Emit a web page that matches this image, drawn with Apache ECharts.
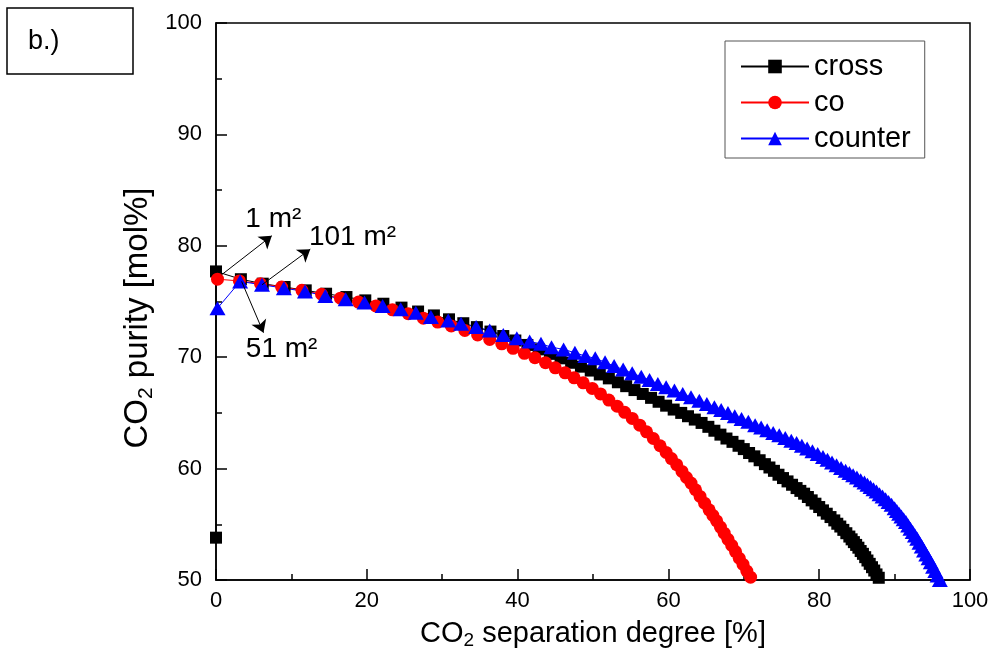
<!DOCTYPE html>
<html>
<head>
<meta charset="utf-8">
<title>CO2 purity vs separation degree</title>
<script src="https://cdn.jsdelivr.net/npm/echarts@6/dist/echarts.min.js"></script>
<style>
  html, body { margin: 0; padding: 0; background: #fff; }
  #chart { width: 993px; height: 670px; }
</style>
</head>
<body>
<div id="chart"></div>
<script>
// data
const crossX = [0, 0, 3.3, 6.2, 9.1, 11.9, 14.6, 17.3, 19.8, 22.2,
  24.6, 26.8, 28.9, 30.9, 32.8, 34.6, 36.4, 38.1, 39.7, 41.3,
  42.8, 44.3, 45.7, 47.1, 48.4, 49.7, 50.9, 52.1, 53.3, 54.4,
  55.5, 56.6, 57.7, 58.7, 59.7, 60.7, 61.7, 62.6, 63.5, 64.4,
  65.3, 66.1, 66.9, 67.7, 68.5, 69.3, 70.0, 70.7, 71.4, 72.1,
  72.8, 73.4, 74.0, 74.6, 75.2, 75.8, 76.4, 77.0, 77.5, 78.0,
  78.5, 79.0, 79.5, 80.0, 80.5, 81.0, 81.5, 82.0, 82.4, 82.8,
  83.2, 83.6, 84.0, 84.3, 84.6, 84.9, 85.2, 85.5, 85.8, 86.1,
  86.4, 86.7, 87.0, 87.3, 87.6, 87.9, 88.2]
const crossY = [53.8, 77.7, 77.0, 76.6, 76.3, 76.0, 75.7, 75.4, 75.1, 74.8,
  74.45, 74.1, 73.75, 73.4, 73.05, 72.7, 72.3, 71.9, 71.5, 71.1,
  70.7, 70.3, 69.9, 69.5, 69.15, 68.8, 68.45, 68.1, 67.75, 67.4,
  67.05, 66.7, 66.35, 66.0, 65.65, 65.3, 65.0, 64.7, 64.4, 64.1,
  63.75, 63.4, 63.05, 62.7, 62.4, 62.05, 61.75, 61.4, 61.1, 60.75,
  60.4, 60.1, 59.8, 59.45, 59.15, 58.85, 58.55, 58.25, 58.0, 57.75,
  57.45, 57.15, 56.85, 56.55, 56.25, 55.95, 55.65, 55.35, 55.05, 54.8,
  54.5, 54.2, 53.9, 53.65, 53.4, 53.15, 52.9, 52.6, 52.35, 52.05,
  51.75, 51.45, 51.15, 50.85, 50.5, 50.2, 49.85]

const coX = [0.2, 3.1, 5.9, 8.7, 11.4, 14.0, 16.5, 18.9, 21.2, 23.4,
  25.5, 27.5, 29.4, 31.2, 33.0, 34.7, 36.3, 37.9, 39.4, 40.9,
  42.3, 43.7, 45.0, 46.3, 47.5, 48.7, 49.9, 51.0, 52.1, 53.2,
  54.2, 55.2, 56.2, 57.1, 58.0, 58.9, 59.7, 60.4, 61.1, 61.8,
  62.4, 63.0, 63.6, 64.2, 64.8, 65.4, 65.9, 66.4, 66.9, 67.4,
  67.9, 68.4, 68.9, 69.4, 69.9, 70.4, 70.9, 71.3]
const coY = [77.0, 76.85, 76.6, 76.3, 76.0, 75.65, 75.3, 74.95, 74.6, 74.25,
  73.9, 73.5, 73.15, 72.8, 72.4, 72.0, 71.6, 71.2, 70.8, 70.35,
  69.95, 69.5, 69.05, 68.6, 68.15, 67.7, 67.2, 66.7, 66.15, 65.6,
  65.05, 64.5, 63.9, 63.3, 62.7, 62.05, 61.45, 60.9, 60.35, 59.75,
  59.2, 58.7, 58.1, 57.5, 56.9, 56.3, 55.8, 55.3, 54.75, 54.2,
  53.65, 53.1, 52.55, 51.95, 51.4, 50.8, 50.25, 49.75]

const counterX = [0.2, 3.2, 6.1, 9.0, 11.8, 14.5, 17.2, 19.7, 22.1, 24.5,
  26.5, 28.5, 30.8, 32.5, 34.5, 36.3, 38.1, 39.9, 41.6, 43.1,
  44.5, 46.1, 47.6, 49.0, 50.3, 51.6, 52.8, 54.0, 55.2, 56.4,
  57.5, 58.6, 59.7, 60.8, 61.9, 63.0, 64.1, 65.1, 66.1, 67.0,
  67.9, 68.8, 69.7, 70.6, 71.5, 72.3, 73.1, 73.9, 74.7, 75.5,
  76.3, 77.0, 77.7, 78.4, 79.1, 79.8, 80.5, 81.1, 81.7, 82.3,
  82.9, 83.5, 84.0, 84.5, 85.0, 85.5, 86.0, 86.4, 86.8, 87.2,
  87.6, 88.0, 88.4, 88.8, 89.2, 89.6, 90.0, 90.3, 90.6, 90.9,
  91.2, 91.5, 91.8, 92.1, 92.4, 92.7, 93.0, 93.3, 93.6, 93.9,
  94.2, 94.5, 94.8, 95.1, 95.4, 95.7, 96.0]
const counterY = [74.4, 76.8, 76.5, 76.2, 75.9, 75.5, 75.2, 74.9, 74.6, 74.3,
  74.0, 73.6, 73.3, 73.0, 72.7, 72.4, 72.0, 71.7, 71.4, 71.2,
  70.9, 70.7, 70.4, 70.1, 69.9, 69.55, 69.2, 68.9, 68.55, 68.25,
  67.95, 67.6, 67.3, 67.0, 66.7, 66.4, 66.1, 65.8, 65.5, 65.25,
  65.0, 64.7, 64.45, 64.2, 63.9, 63.7, 63.45, 63.2, 63.0, 62.75,
  62.5, 62.3, 62.05, 61.8, 61.55, 61.3, 61.05, 60.8, 60.55, 60.3,
  60.05, 59.8, 59.6, 59.4, 59.2, 58.95, 58.75, 58.55, 58.35, 58.15,
  57.95, 57.7, 57.5, 57.25, 57.0, 56.75, 56.45, 56.2, 55.95, 55.7,
  55.45, 55.2, 54.9, 54.6, 54.3, 54.0, 53.7, 53.35, 53.0, 52.65,
  52.3, 51.95, 51.6, 51.2, 50.8, 50.4, 50.0]

// annotation arrows (start, tip) and labels, in data units
const arrowLines = [
  [[0.75, 77.4], [7.4, 80.9]],
  [[6.1, 76.5], [12.5, 79.7]],
  [[3.4, 76.8], [6.3, 72.2]]
]
const areaLabels = ['1 m²', '101 m²', '51 m²']
const areaLabelAt = [[7.6, 82.4], [18.1, 80.75], [8.7, 70.7]]

const font = 'Liberation Sans, Arial, sans-serif'
const zip = (xs, ys) => xs.map((x, i) => [x, ys[i]])

const chart = echarts.init(document.getElementById('chart'), null, { renderer: 'canvas' })

const axisCommon = {
  type: 'value',
  axisLine: { show: true, onZero: false, lineStyle: { color: '#000', width: 1.5 } },
  axisTick: { show: true, inside: true, length: 11, lineStyle: { color: '#000', width: 1.5 } },
  minorTick: { show: true, splitNumber: 2, length: 6, lineStyle: { color: '#000', width: 1.5 } },
  splitLine: { show: false },
  minorSplitLine: { show: false }
}

const titleRich = (size) => ({
  a: { fontSize: size, fontFamily: font, color: '#000', lineHeight: size + 4 },
  b: { fontSize: Math.round(size * 0.65), fontFamily: font, color: '#000',
       lineHeight: Math.round(size * 0.65), verticalAlign: 'bottom' }
})

chart.setOption({
  animation: false,
  backgroundColor: '#fff',
  grid: {
    left: 216, right: 23, top: 23, bottom: 90,
    show: true, borderColor: '#000', borderWidth: 1.5,
    outerBoundsMode: 'none'
  },
  legend: {
    orient: 'vertical',
    left: 725, top: 41,
    padding: [11, 14, 5, 15],
    itemWidth: 68, itemHeight: 17, itemGap: 7,
    borderColor: '#555', borderWidth: 1,
    backgroundColor: '#fff',
    textStyle: { fontSize: 29, fontFamily: font, color: '#000' },
    data: ['cross', 'co', 'counter']
  },
  xAxis: Object.assign({}, axisCommon, {
    min: 0, max: 100, interval: 20,
    axisLabel: { color: '#000', fontSize: 22, fontFamily: font, margin: 10 },
    name: '{a|CO}{b|2}{a| separation degree [%]}',
    nameLocation: 'middle', nameGap: 37,
    nameTextStyle: { rich: titleRich(29) }
  }),
  yAxis: Object.assign({}, axisCommon, {
    min: 50, max: 100, interval: 10,
    axisLabel: { color: '#000', fontSize: 22, fontFamily: font, margin: 14 }
  }),
  series: [
    {
      name: 'cross', type: 'line', data: zip(crossX, crossY),
      symbol: 'rect', symbolSize: 12,
      lineStyle: { color: '#000', width: 1 },
      itemStyle: { color: '#000' }
    },
    {
      name: 'co', type: 'line', data: zip(coX, coY),
      symbol: 'circle', symbolSize: 13,
      lineStyle: { color: '#ff0000', width: 1 },
      itemStyle: { color: '#ff0000' }
    },
    {
      name: 'counter', type: 'line', data: zip(counterX, counterY),
      symbol: 'triangle', symbolSize: [16, 14],
      lineStyle: { color: '#0000ff', width: 1 },
      itemStyle: { color: '#0000ff' },
      markLine: {
        silent: true,
        symbol: ['none', 'arrow'],
        symbolSize: 12,
        label: { show: false },
        lineStyle: { color: '#000', width: 1, type: 'solid' },
        emphasis: { disabled: true },
        data: arrowLines.map(([a, b]) => [{ coord: a }, { coord: b }])
      }
    }
  ]
})

// annotation labels, y title and panel tag
const texts = areaLabels.map((t, i) => {
  const p = chart.convertToPixel({ xAxisIndex: 0, yAxisIndex: 0 }, areaLabelAt[i])
  return {
    type: 'text', x: p[0], y: p[1], z: 100,
    style: { text: t, fill: '#000', font: '28px ' + font, align: 'center', verticalAlign: 'middle' }
  }
})

chart.setOption({
  graphic: texts.concat([
    { type: 'text', x: 138, y: 318, rotation: Math.PI / 2,
      style: { text: '{a|CO}{b|2}{a| purity [mol%]}', rich: titleRich(33),
               align: 'center', verticalAlign: 'middle' } },
    { type: 'rect', shape: { x: 7, y: 8, width: 126, height: 66 },
      style: { fill: '#fff', stroke: '#000', lineWidth: 1.5 } },
    { type: 'text', x: 28, y: 42,
      style: { text: 'b.)', fill: '#000', font: '27px ' + font, verticalAlign: 'middle' } }
  ])
})

window.onresize = () => chart.resize()
</script>
</body>
</html>
